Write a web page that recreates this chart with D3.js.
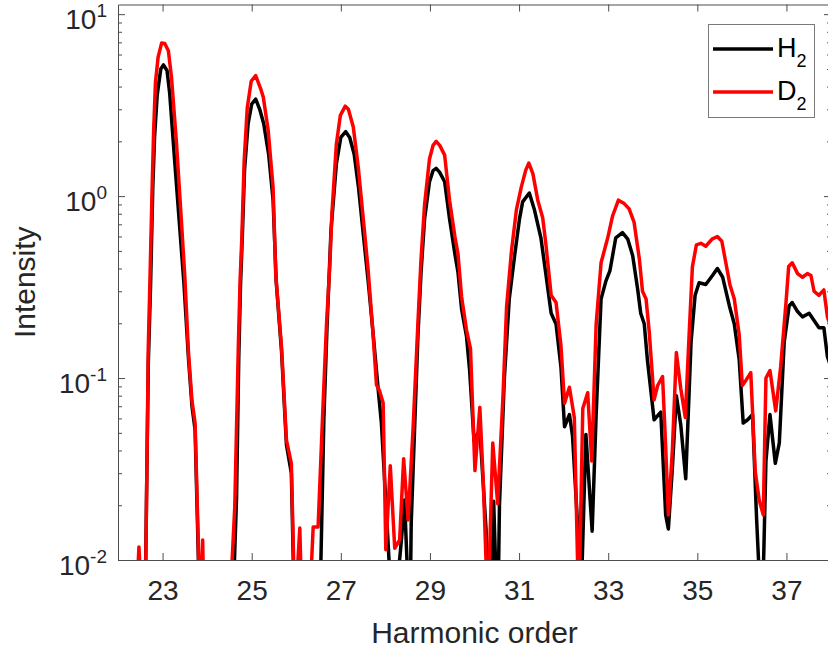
<!DOCTYPE html>
<html>
<head>
<meta charset="utf-8">
<script src="https://cdn.jsdelivr.net/npm/d3@7"></script>
<style>
  body { margin: 0; background: #fff; }
  svg { display: block; }
</style>
</head>
<body>
<script>
// H2 spectrum (harmonic order / intensity)
var h2Order = [22.60, 22.68, 22.73, 22.78, 22.82, 22.88, 22.96, 23.02, 23.10, 23.16, 23.27, 23.40, 23.48, 23.58, 23.66, 23.73, 23.80, 23.84,
  24.56, 24.66, 24.71, 24.75, 24.79, 24.84, 24.92, 25.00, 25.09, 25.18, 25.27, 25.38, 25.48, 25.55, 25.67, 25.78, 25.89, 25.97,
  26.52, 26.62, 26.69, 26.78, 26.90, 27.00, 27.11, 27.20, 27.30, 27.40, 27.51, 27.62, 27.73, 27.84, 27.91, 28.02, 28.17,
  28.36, 28.43, 28.55, 28.58, 28.73, 28.80, 28.88, 28.99, 29.07, 29.14, 29.22, 29.33, 29.44, 29.56, 29.63, 29.71, 29.82, 29.89,
  29.99, 30.12, 30.26, 30.34, 30.43, 30.52, 30.56, 30.67, 30.78, 30.89, 31.01, 31.08, 31.23, 31.34, 31.49, 31.60, 31.72, 31.83,
  31.94, 32.02, 32.13, 32.20, 32.31, 32.37, 32.50, 32.64, 32.73, 32.84, 32.95, 33.04, 33.17, 33.32, 33.44, 33.55, 33.66, 33.73,
  33.81, 33.88, 34.03, 34.18, 34.29, 34.35, 34.44, 34.53, 34.63, 34.74, 34.86, 34.95, 35.04, 35.19, 35.34, 35.45, 35.57, 35.72,
  35.83, 35.94, 36.03, 36.13, 36.24, 36.33, 36.45, 36.54, 36.63, 36.75, 36.84, 36.95, 37.06, 37.13, 37.25, 37.36, 37.51, 37.62,
  37.73, 37.84, 37.92, 38.00];
var h2Intensity = [0.004, 0.12, 0.32, 1.1, 2.1, 3.6, 5.0, 5.26, 4.9, 3.67, 1.58, 0.6, 0.33, 0.13, 0.07, 0.052, 0.011, 0.004,
  0.004, 0.022, 0.13, 0.33, 0.6, 1.4, 2.5, 3.2, 3.41, 3.0, 2.5, 1.7, 0.95, 0.34, 0.14, 0.043, 0.030, 0.004,
  0.004, 0.06, 0.19, 0.65, 1.5, 2.1, 2.26, 2.1, 1.7, 1.1, 0.6, 0.33, 0.17, 0.086, 0.057, 0.019, 0.004,
  0.0129, 0.0214, 0.004, 0.016, 0.17, 0.38, 0.75, 1.2, 1.38, 1.42, 1.35, 1.2, 0.75, 0.48, 0.38, 0.24, 0.17, 0.111,
  0.045, 0.052, 0.0146, 0.004, 0.021, 0.004, 0.02, 0.1, 0.272, 0.45, 0.75, 0.93, 1.04, 0.85, 0.59, 0.375, 0.227, 0.198,
  0.115, 0.054, 0.063, 0.048, 0.0162, 0.004, 0.049, 0.0144, 0.063, 0.272, 0.342, 0.39, 0.59, 0.63, 0.58, 0.47, 0.31, 0.227,
  0.198, 0.126, 0.059, 0.065, 0.0177, 0.0148, 0.032, 0.080, 0.055, 0.028, 0.158, 0.285, 0.334, 0.327, 0.366, 0.40, 0.358, 0.249,
  0.198, 0.126, 0.0566, 0.059, 0.063, 0.0169, 0.004, 0.035, 0.063, 0.034, 0.044, 0.158, 0.249, 0.26, 0.232, 0.217, 0.227, 0.207,
  0.189, 0.189, 0.131, 0.115];

// D2 spectrum
var d2Order = [22.38, 22.47, 22.56, 22.62, 22.68, 22.72, 22.77, 22.80, 22.84, 22.90, 22.98, 23.05, 23.13, 23.20, 23.31, 23.42, 23.50,
  23.58, 23.66, 23.73, 23.80, 23.84, 23.90, 23.93,
  24.50, 24.62, 24.70, 24.74, 24.78, 24.83, 24.90, 24.99, 25.09, 25.20, 25.26, 25.37, 25.48, 25.54, 25.67, 25.78, 25.89, 25.97,
  26.08, 26.13, 26.29, 26.38, 26.49, 26.60, 26.68, 26.75, 26.80, 26.90, 26.99, 27.10, 27.17, 27.28, 27.39, 27.50, 27.61, 27.72,
  27.80, 27.87, 27.95, 28.01, 28.11, 28.21, 28.32, 28.41, 28.51, 28.62, 28.73, 28.80, 28.88, 28.99, 29.07, 29.14, 29.22, 29.33,
  29.44, 29.56, 29.63, 29.71, 29.82, 29.91, 30.01, 30.12, 30.20, 30.30, 30.41, 30.52, 30.64, 30.72, 30.83, 30.94, 31.05, 31.15,
  31.22, 31.31, 31.42, 31.53, 31.60, 31.72, 31.83, 31.94, 32.02, 32.13, 32.24, 32.34, 32.43, 32.54, 32.63, 32.73, 32.84, 32.99,
  33.10, 33.23, 33.36, 33.47, 33.58, 33.70, 33.77, 33.85, 33.92, 34.03, 34.11, 34.22, 34.29, 34.35, 34.44, 34.53, 34.63, 34.73,
  34.82, 34.89, 34.98, 35.08, 35.19, 35.33, 35.45, 35.55, 35.64, 35.73, 35.83, 35.94, 36.01, 36.10, 36.20, 36.30, 36.39, 36.48,
  36.54, 36.63, 36.76, 36.87, 36.99, 37.05, 37.13, 37.25, 37.36, 37.47, 37.55, 37.62, 37.73, 37.84, 37.92, 38.00];
var d2Intensity = [0.004, 0.0118, 0.004, 0.008, 0.149, 0.37, 1.22, 2.3, 4.2, 5.8, 6.95, 6.9, 6.3, 4.5, 2.0, 0.75, 0.36,
  0.14, 0.075, 0.0566, 0.0129, 0.005, 0.0129, 0.005,
  0.005, 0.0195, 0.148, 0.345, 0.6, 1.54, 3.05, 4.29, 4.59, 3.9, 3.5, 2.3, 1.12, 0.37, 0.148, 0.0456, 0.034, 0.005,
  0.015, 0.005, 0.005, 0.0152, 0.0152, 0.07, 0.2, 0.4, 0.8, 1.93, 2.78, 3.12, 3.0, 2.4, 1.45, 0.77, 0.4, 0.18,
  0.092, 0.085, 0.073, 0.0114, 0.033, 0.0116, 0.0129, 0.036, 0.0166, 0.052, 0.2, 0.45, 0.9, 1.6, 1.9, 2.0, 1.9, 1.68,
  0.95, 0.60, 0.48, 0.28, 0.184, 0.145, 0.031, 0.069, 0.026, 0.005, 0.044, 0.0204, 0.08, 0.247, 0.50, 0.84, 1.12, 1.39,
  1.52, 1.33, 0.95, 0.76, 0.55, 0.285, 0.26, 0.151, 0.0728, 0.089, 0.0607, 0.005, 0.068, 0.083, 0.035, 0.198, 0.43, 0.59,
  0.78, 0.95, 0.91, 0.85, 0.72, 0.45, 0.30, 0.272, 0.181, 0.076, 0.091, 0.102, 0.042, 0.0177, 0.040, 0.138, 0.087, 0.0607,
  0.181, 0.41, 0.54, 0.55, 0.53, 0.58, 0.60, 0.565, 0.43, 0.327, 0.272, 0.173, 0.091, 0.098, 0.107, 0.0306, 0.0213, 0.0177,
  0.1, 0.11, 0.066, 0.115, 0.26, 0.41, 0.43, 0.375, 0.358, 0.375, 0.366, 0.30, 0.285, 0.305, 0.217, 0.19];

var xTickValues = [23, 25, 27, 29, 31, 33, 35, 37];
var yTickValues = [0.01, 0.1, 1, 10];
var yTickExponents = ["-2", "-1", "0", "1"];
var legendNames = ["H", "D"];   // each gets a subscript 2
var seriesColors = ["#000000", "#ff0000"];

var w = 828, h = 650;
// plot box (right edge falls just outside the picture, as in the figure)
var pLeft = 118, pRight = 831, pTop = 4.5, pBottom = 560;
var fontFamily = "'Liberation Sans', Arial, Helvetica, sans-serif";
var axisColor = "#4d4d4d";
var textColor = "#262626";
var lineWidth = 3.5;

var xScale = d3.scaleLinear().domain([22, 38]).range([pLeft, pRight]);
var yScale = d3.scaleLog().domain([0.01, 11.3]).range([pBottom, pTop]);

var svg = d3.select("body")
            .append("svg")
            .attr("width", w)
            .attr("height", h)
            .attr("font-family", fontFamily);

svg.append("defs").append("clipPath")
   .attr("id", "plotClip")
   .append("rect")
   .attr("x", pLeft)
   .attr("y", pTop)
   .attr("width", pRight - pLeft)
   .attr("height", pBottom - pTop);

// d3.axis writes its own font attrs, so restyle after the call
function styleAxis(g, size) {
    g.attr("font-family", fontFamily).attr("font-size", size || 10);
    g.select(".domain").attr("stroke", axisColor);
    g.selectAll(".tick line").attr("stroke", axisColor);
    g.selectAll(".tick text").attr("fill", textColor);
}

//minor log ticks 2..9 in every decade
var minorTicks = [];
[0.01, 0.1, 1].forEach(function(dec) {
    for (var k = 2; k <= 9; k++) minorTicks.push(k * dec);
});

// bottom axis with labels
svg.append("g")
   .attr("transform", `translate(0, ${pBottom})`)
   .call(d3.axisBottom(xScale).tickValues(xTickValues).tickSizeInner(-7).tickSizeOuter(0)
           .tickPadding(20).tickFormat(d3.format("d")))
   .call(styleAxis, 28);

// top axis (ticks only)
svg.append("g")
   .attr("transform", `translate(0, ${pTop})`)
   .call(d3.axisTop(xScale).tickValues(xTickValues).tickSizeInner(-7).tickSizeOuter(0).tickFormat(""))
   .call(styleAxis);

// left axis, labels written as 10^n
var yAxisG = svg.append("g")
   .attr("transform", `translate(${pLeft}, 0)`)
   .call(d3.axisLeft(yScale).tickValues(yTickValues).tickSizeInner(-7).tickSizeOuter(0)
           .tickPadding(11).tickFormat(""))
   .call(styleAxis, 28);

yAxisG.selectAll(".tick text")
   .attr("dy", null)
   .attr("y", 14)
   .each(function(d, i) {
       var t = d3.select(this);
       t.append("tspan").text("10");
       t.append("tspan").attr("dy", -12).attr("font-size", 19).text(yTickExponents[i]);
   });

svg.append("g")
   .attr("transform", `translate(${pLeft}, 0)`)
   .call(d3.axisLeft(yScale).tickValues(minorTicks).tickSizeInner(-4).tickSizeOuter(0).tickFormat(""))
   .call(styleAxis)
   .select(".domain").remove();

// right axis (mirror)
svg.append("g")
   .attr("transform", `translate(${pRight}, 0)`)
   .call(d3.axisRight(yScale).tickValues(yTickValues).tickSizeInner(-7).tickSizeOuter(0).tickFormat(""))
   .call(styleAxis);
svg.append("g")
   .attr("transform", `translate(${pRight}, 0)`)
   .call(d3.axisRight(yScale).tickValues(minorTicks).tickSizeInner(-4).tickSizeOuter(0).tickFormat(""))
   .call(styleAxis)
   .select(".domain").remove();

// spectra
var line = d3.line()
    .x(function(d) { return xScale(d[0]); })
    .y(function(d) { return yScale(d[1]); });

var series = [
    { name: legendNames[0], color: seriesColors[0], points: d3.zip(h2Order, h2Intensity) },
    { name: legendNames[1], color: seriesColors[1], points: d3.zip(d2Order, d2Intensity) }
];

svg.append("g")
   .attr("clip-path", "url(#plotClip)")
   .selectAll("path")
   .data(series)
   .enter()
   .append("path")
   .attr("d", function(d) { return line(d.points); })
   .attr("fill", "none")
   .attr("stroke", function(d) { return d.color; })
   .attr("stroke-width", lineWidth)
   .attr("stroke-linejoin", "round");

// axis titles
svg.append("text")
   .attr("x", (pLeft + pRight) / 2)
   .attr("y", 643)
   .attr("text-anchor", "middle")
   .attr("font-size", 30)
   .attr("fill", textColor)
   .text("Harmonic order");

svg.append("text")
   .attr("transform", `translate(35, ${(pTop + pBottom) / 2}) rotate(-90)`)
   .attr("text-anchor", "middle")
   .attr("font-size", 30)
   .attr("fill", textColor)
   .text("Intensity");

// legend
var legend = svg.append("g");
legend.append("rect")
   .attr("x", 708.5)
   .attr("y", 24.5)
   .attr("width", 106)
   .attr("height", 93)
   .attr("fill", "#fff")
   .attr("stroke", "#7a7a7a")
   .attr("stroke-width", 1);

var items = legend.selectAll("g.item")
   .data(series)
   .enter()
   .append("g")
   .attr("transform", function(d, i) { return `translate(0, ${49 + i * 43})`; });

items.append("line")
   .attr("x1", 713).attr("x2", 773)
   .attr("y1", 0).attr("y2", 0)
   .attr("stroke", function(d) { return d.color; })
   .attr("stroke-width", lineWidth);

var labels = items.append("text")
   .attr("x", 777)
   .attr("y", 8)
   .attr("font-size", 27)
   .attr("fill", "#000");
labels.append("tspan").text(function(d) { return d.name; });
labels.append("tspan").attr("dy", 10).attr("font-size", 18).text("2");
</script>
</body>
</html>
